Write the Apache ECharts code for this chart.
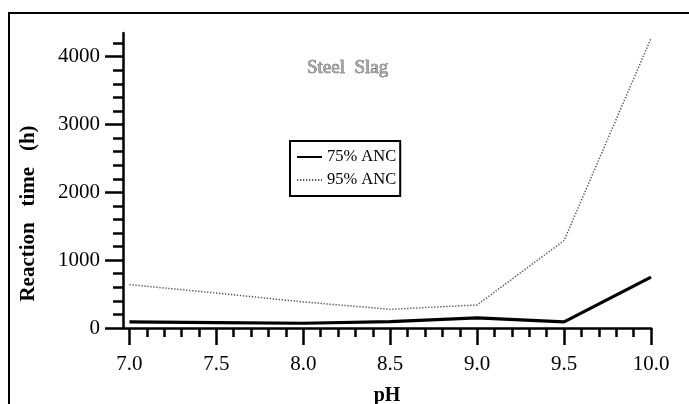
<!DOCTYPE html>
<html>
<head>
<meta charset="utf-8">
<script src="https://cdn.jsdelivr.net/npm/echarts@6/dist/echarts.min.js"></script>
<style>
  html, body { margin: 0; padding: 0; background: #fff; }
  #wrap { position: relative; width: 689px; height: 404px; overflow: hidden; }
  #frame { position: absolute; left: 8px; top: 12px; width: 700px; height: 420px;
           border-top: 2px solid #000; border-left: 2px solid #000; }
  #chart { position: absolute; left: 0; top: 0; width: 689px; height: 404px; }
</style>
</head>
<body>
<div id="wrap">
  <div id="frame"></div>
  <div id="chart"></div>
</div>
<script>
// ---- data ----
const phValues = [7.0, 7.5, 8.0, 8.5, 9.0, 9.5, 10.0];
const anc75 = [90, 80, 70, 95, 150, 90, 750];
const anc95 = [640, 515, 385, 275, 340, 1290, 4270];
const seriesNames = ['75% ANC', '95% ANC'];
const xMajorTicks = [7.0, 7.5, 8.0, 8.5, 9.0, 9.5, 10.0];
const xMinorTicks = [7.1, 7.2, 7.3, 7.4, 7.6, 7.7, 7.8, 7.9, 8.1, 8.2, 8.3, 8.4, 8.6, 8.7, 8.8, 8.9, 9.1, 9.2, 9.3, 9.4, 9.6, 9.7, 9.8, 9.9];
const yMajorTicks = [0, 1000, 2000, 3000, 4000];
const yMinorTicks = [200, 400, 600, 800, 1200, 1400, 1600, 1800, 2200, 2400, 2600, 2800, 3200, 3400, 3600, 3800, 4200];
const xRange = [6.963, 10.0];
const yRange = [0, 4350];
const chartTitle = 'Steel  Slag';
const xName = 'pH';
const yName = 'Reaction   time   (h)';

const serif = '"Liberation Serif", "DejaVu Serif", serif';
const pair = (xs, ys) => xs.map((x, i) => [x, ys[i]]);

const chart = echarts.init(document.getElementById('chart'));
chart.setOption({
  animation: false,
  backgroundColor: 'transparent',
  title: {
    text: chartTitle,
    left: 302, top: 54,
    textStyle: { fontFamily: serif, fontSize: 19, fontWeight: 'normal',
                 color: '#a8a8a8', textBorderColor: '#2a2a2a', textBorderWidth: 0.5 }
  },
  legend: {
    orient: 'vertical',
    left: 290, top: 141,
    padding: [6, 4, 6, 6],
    itemGap: 3,
    itemWidth: 25, itemHeight: 20,
    borderColor: '#000', borderWidth: 2,
    backgroundColor: '#fff',
    itemStyle: { opacity: 0 },
    textStyle: { fontFamily: serif, fontSize: 16.5, color: '#000', lineHeight: 20 },
    data: seriesNames
  },
  grid: { left: 123, right: 38, top: 33, bottom: 76, containLabel: false, outerBoundsMode: 'none' },
  xAxis: [{
    type: 'value', min: xRange[0], max: xRange[1],
    name: xName, nameLocation: 'middle', nameGap: 58,
    nameTextStyle: { fontFamily: serif, fontSize: 20, fontWeight: 'bold', color: '#000' },
    axisLine: { show: true, lineStyle: { color: '#000', width: 2.5 } },
    axisTick: { show: true, length: 17, lineStyle: { color: '#000', width: 2.5 }, customValues: xMajorTicks },
    axisLabel: { show: true, margin: 26, fontFamily: serif, fontSize: 21, color: '#000',
                 customValues: xMajorTicks, formatter: v => v.toFixed(1) },
    splitLine: { show: false }
  }, {
    type: 'value', min: xRange[0], max: xRange[1], position: 'bottom',
    axisLine: { show: false },
    axisTick: { show: true, length: 9, lineStyle: { color: '#000', width: 2.5 }, customValues: xMinorTicks },
    axisLabel: { show: false },
    splitLine: { show: false }
  }],
  yAxis: [{
    type: 'value', min: yRange[0], max: yRange[1],
    name: yName, nameLocation: 'middle', nameGap: 84, nameRotate: 90,
    nameTextStyle: { fontFamily: serif, fontSize: 21, fontWeight: 'bold', color: '#000', padding: [0, 66, 0, 0] },
    axisLine: { show: true, lineStyle: { color: '#000', width: 2.5 } },
    axisTick: { show: true, length: 18, lineStyle: { color: '#000', width: 2.5 }, customValues: yMajorTicks },
    axisLabel: { show: true, margin: 23, fontFamily: serif, fontSize: 21, color: '#000',
                 customValues: yMajorTicks, formatter: v => String(v) },
    splitLine: { show: false }
  }, {
    type: 'value', min: yRange[0], max: yRange[1], position: 'left',
    axisLine: { show: false },
    axisTick: { show: true, length: 10, lineStyle: { color: '#000', width: 2.5 }, customValues: yMinorTicks },
    axisLabel: { show: false },
    splitLine: { show: false }
  }],
  series: [{
    name: seriesNames[0], type: 'line', xAxisIndex: 0, yAxisIndex: 0,
    data: pair(phValues, anc75),
    symbol: 'none', smooth: false,
    lineStyle: { color: '#000', width: 3.2, type: 'solid' },
    itemStyle: { color: '#000' }
  }, {
    name: seriesNames[1], type: 'line', xAxisIndex: 0, yAxisIndex: 0,
    data: pair(phValues, anc95),
    symbol: 'none', smooth: false,
    lineStyle: { color: '#555', width: 1.5, type: [1.3, 1.7] },
    itemStyle: { color: '#555' }
  }]
});
</script>
</body>
</html>
